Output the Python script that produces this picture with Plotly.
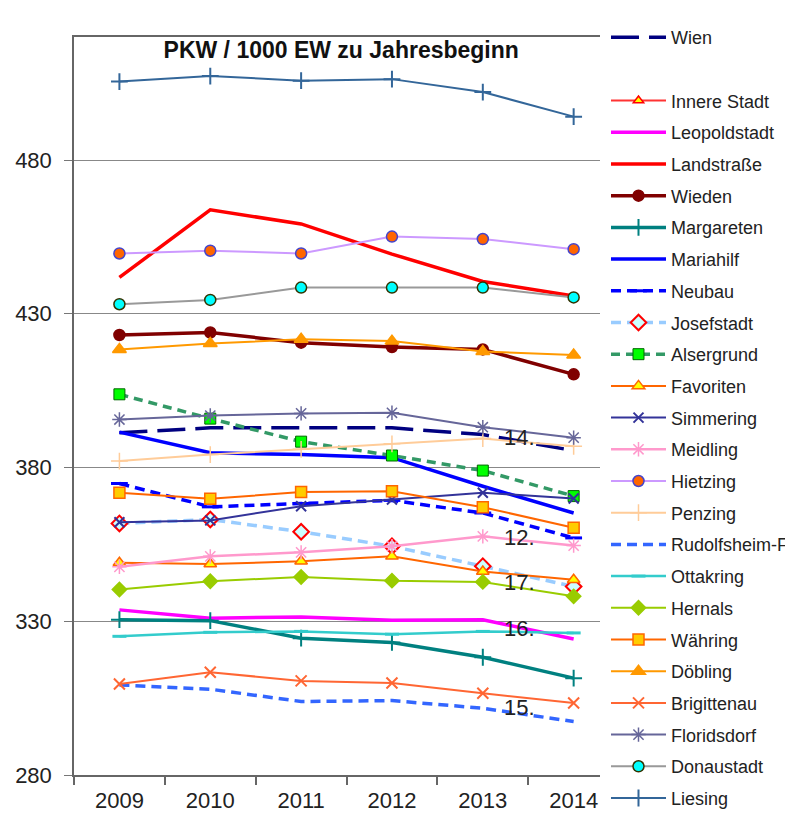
import plotly.graph_objects as go

# ---------------- data ----------------
years = ["2009", "2010", "2011", "2012", "2013", "2014"]
y_ticks = [280, 330, 380, 430, 480]

wien = [391.3, 392.9, 392.9, 392.9, 390.7, 385.5]
innere_stadt = [None, None, None, None, None, None]  # off scale (above 520)
leopoldstadt = [333.7, 331.0, 331.4, 330.3, 330.5, 324.2]
landstrasse = [441.8, 463.8, 459.2, 449.4, 440.5, 435.8]
wieden = [423.1, 423.9, 420.6, 419.2, 418.4, 410.3]
margareten = [330.5, 330.2, 324.5, 323.1, 318.3, 311.5]
mariahilf = [391.5, 384.8, 384.2, 383.2, 373.9, 365.2]
neubau = [374.8, 367.2, 368.3, 369.3, 365.2, 357.1]
josefstadt = [361.8, 363.1, 359.1, 354.4, 347.9, 341.3]
alsergrund = [403.8, 395.9, 388.4, 383.9, 379.0, 370.7]
favoriten = [349.0, 348.6, 349.5, 351.1, 346.2, 343.5]
simmering = [362.2, 362.8, 367.4, 369.6, 371.8, 369.9]
meidling = [347.7, 351.1, 352.4, 354.4, 357.6, 354.6]
hietzing = [449.6, 450.5, 449.6, 455.1, 454.3, 451.0]
penzing = [382.1, 384.2, 385.9, 387.7, 389.4, 386.9]
rudolfsheim = [309.3, 307.9, 303.9, 304.2, 301.7, 297.4]
ottakring = [325.1, 326.4, 326.7, 325.8, 326.7, 326.2]
hernals = [340.3, 343.0, 344.4, 343.2, 342.8, 338.1]
waehring = [371.8, 369.8, 372.0, 372.3, 367.1, 360.4]
doebling = [418.4, 420.3, 421.7, 421.1, 417.7, 416.6]
brigittenau = [309.6, 313.4, 310.6, 309.9, 306.6, 303.4]
floridsdorf = [395.6, 396.9, 397.6, 397.8, 393.1, 389.7]
donaustadt = [433.1, 434.5, 438.5, 438.5, 438.5, 435.3]
liesing = [505.5, 507.3, 505.8, 506.3, 502.1, 494.1]

# district number labels near the line ends
end_labels = ["14.", "12.", "17.", "16.", "15."]
end_label_y = [389.8, 357.2, 342.5, 327.6, 302.1]

# ---------------- styles ----------------
def sty(color, width=2, dash="solid", symbol=None, msize=9, mfill=None, mline=None, mlw=1.5):
    return dict(color=color, width=width, dash=dash, symbol=symbol, msize=msize,
                mfill=mfill if mfill else color, mline=mline if mline else color, mlw=mlw)

series = [
    ("Wien", wien, sty("#000080", 3.5, "28px,10px")),
    (" ", None, None),
    ("Innere Stadt", innere_stadt, sty("#FF3333", 2, symbol="triangle-up", mfill="#FFFF00", mline="#FF0000")),
    ("Leopoldstadt", leopoldstadt, sty("#FF00FF", 3.5)),
    ("Landstraße", landstrasse, sty("#FF0000", 3.5)),
    ("Wieden", wieden, sty("#800000", 3.5, symbol="circle", msize=11)),
    ("Margareten", margareten, sty("#008080", 3.5, symbol="cross-thin-open", msize=12, mlw=2)),
    ("Mariahilf", mariahilf, sty("#0000FF", 3.5)),
    ("Neubau", neubau, sty("#0000FF", 3.5, "10px,6px", symbol="line-ew-open", msize=12, mline="#33CCFF", mlw=3)),
    ("Josefstadt", josefstadt, sty("#99CCFF", 3.5, "10px,6px", symbol="diamond", msize=12, mfill="#CCFFFF", mline="#FF0000", mlw=2)),
    ("Alsergrund", alsergrund, sty("#339966", 3.5, "9px,6px", symbol="square", msize=11, mfill="#00FF00", mline="#006600", mlw=1)),
    ("Favoriten", favoriten, sty("#FF6600", 2, symbol="triangle-up", msize=11, mfill="#FFFF00", mline="#FF6600")),
    ("Simmering", simmering, sty("#333399", 2, symbol="x-thin-open", msize=10, mlw=2)),
    ("Meidling", meidling, sty("#FF99CC", 2.5, symbol="asterisk-open", msize=12, mlw=1.5)),
    ("Hietzing", hietzing, sty("#CC99FF", 2, symbol="circle", msize=11, mfill="#FF6600", mline="#4444CC", mlw=1.5)),
    ("Penzing", penzing, sty("#FFCC99", 2, symbol="cross-thin-open", msize=12, mlw=1.5)),
    ("Rudolfsheim-F.", rudolfsheim, sty("#3366FF", 3.5, "10px,6px")),
    ("Ottakring", ottakring, sty("#33CCCC", 2.5, symbol="line-ew-open", msize=10, mlw=3)),
    ("Hernals", hernals, sty("#99CC00", 2, symbol="diamond", msize=11)),
    ("Währing", waehring, sty("#FF6600", 2, symbol="square", msize=11, mfill="#FFCC00", mline="#FF6600")),
    ("Döbling", doebling, sty("#FF9900", 2, symbol="triangle-up", msize=12)),
    ("Brigittenau", brigittenau, sty("#FF6633", 2, symbol="x-thin-open", msize=11, mlw=2)),
    ("Floridsdorf", floridsdorf, sty("#666699", 2, symbol="asterisk-open", msize=12, mlw=1.5)),
    ("Donaustadt", donaustadt, sty("#999999", 2, symbol="circle", msize=11, mfill="#00FFFF", mline="#333300", mlw=1.5)),
    ("Liesing", liesing, sty("#336699", 2, symbol="cross-thin-open", msize=12, mlw=2)),
]

FONT = "Arial, 'Liberation Sans', sans-serif"
fig = go.Figure()

for i, (name, vals, s) in enumerate(series):
    if s is None:
        fig.add_trace(go.Scatter(x=years, y=[None] * len(years), name=name, mode="lines",
                                 line=dict(color="rgba(0,0,0,0)", width=1),
                                 legendgroup=f"g{i:02d}", showlegend=True, hoverinfo="skip"))
        continue
    mode = "lines+markers" if s["symbol"] else "lines"
    marker = dict(symbol=s["symbol"], size=s["msize"], color=s["mfill"],
                  line=dict(color=s["mline"], width=s["mlw"])) if s["symbol"] else None
    fig.add_trace(go.Scatter(
        x=years, y=vals, name=name, mode=mode,
        line=dict(color=s["color"], width=s["width"], dash=s["dash"]),
        marker=marker, legendgroup=f"g{i:02d}", showlegend=True,
    ))

for txt, yv in zip(end_labels, end_label_y):
    fig.add_annotation(x=4.21, y=yv, xref="x", yref="y", text=txt, showarrow=False,
                       xanchor="left", yanchor="middle",
                       font=dict(family=FONT, size=22, color="#222222"))

fig.update_layout(
    width=785, height=826,
    margin=dict(l=65.5, r=193, t=29, b=59, autoexpand=False),
    paper_bgcolor="white", plot_bgcolor="white",
    font=dict(family=FONT, color="#222222"),
    title=dict(text="<b>PKW / 1000 EW zu Jahresbeginn</b>", x=0.508, xref="paper",
               y=0.982, yref="paper", xanchor="center", yanchor="middle",
               font=dict(family=FONT, size=23, color="#111111")),
    showlegend=True,
    legend=dict(x=1.0114, xanchor="left", y=0.9867, yanchor="top", yref="container",
                maxheight=826,
                font=dict(family=FONT, size=18, color="#222222"),
                itemwidth=55, tracegroupgap=5.3, traceorder="grouped",
                bgcolor="rgba(0,0,0,0)"),
    xaxis=dict(type="category", range=[-0.5, 5.29], tickson="boundaries",
               ticks="outside", ticklen=8, tickcolor="#666666", tickwidth=1.5,
               showline=True, linecolor="#666666", linewidth=1.5, mirror=True,
               showgrid=False, ticklabelstandoff=5,
               tickfont=dict(family=FONT, size=22, color="#222222")),
    yaxis=dict(range=[280, 520], tickvals=y_ticks, ticks="outside", ticklen=8,
               tickcolor="#777777", showline=True, linecolor="#666666", linewidth=1.5,
               showgrid=True, gridcolor="#888888", gridwidth=1, zeroline=False,
               ticklabelstandoff=8,
               tickfont=dict(family=FONT, size=22, color="#222222")),
)

fig.write_html("out.html")
